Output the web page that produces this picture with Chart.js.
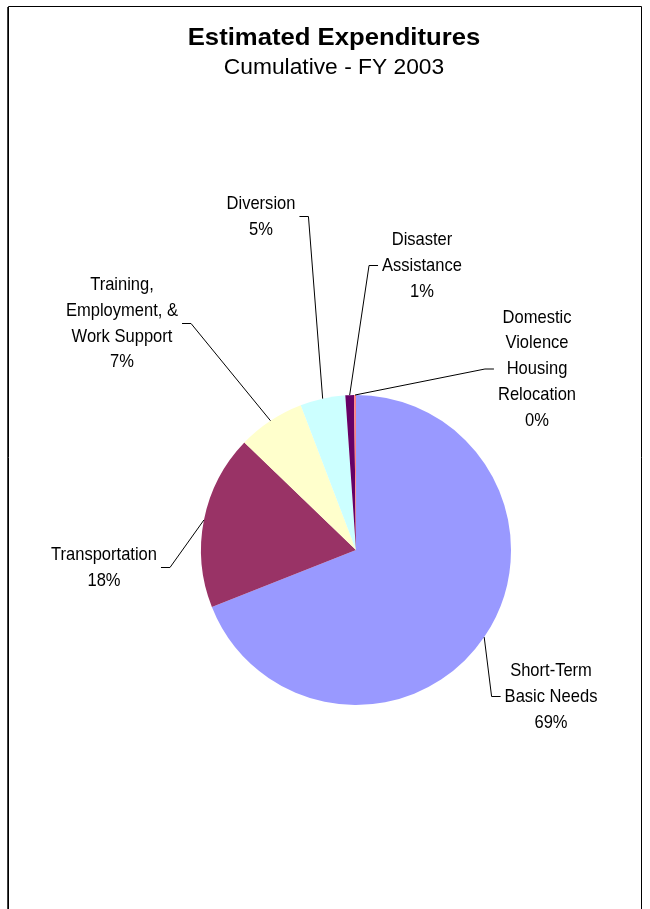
<!DOCTYPE html>
<html>
<head>
<meta charset="utf-8">
<script src="https://cdn.jsdelivr.net/npm/chart.js@4/dist/chart.umd.min.js"></script>
<style>
  html, body { margin: 0; padding: 0; background: #ffffff; }
  #wrap { position: relative; width: 650px; height: 909px; }
  canvas { display: block; }
</style>
</head>
<body>
<div id="wrap"><canvas id="c" width="650" height="909"></canvas></div>
<script>
// ---- data ----
const TITLE = "Estimated Expenditures";
const SUBTITLE = "Cumulative - FY 2003";
const categories = [
  "Short-Term\nBasic Needs",
  "Transportation",
  "Training,\nEmployment, &\nWork Support",
  "Diversion",
  "Disaster\nAssistance",
  "Domestic\nViolence\nHousing\nRelocation"
];
const values = [69.0, 18.2, 7.0, 4.7, 0.9, 0.2];
const colors = ["#9999FF", "#993366", "#FFFFCC", "#CCFFFF", "#660066", "#FF8080"];

// ---- label layout (text block centre, side the leader line attaches to) ----
const labelLayout = [
  { cx: 551, cy: 696.5, side: "left" },
  { cx: 104, cy: 567.5, side: "right" },
  { cx: 122, cy: 323.5, side: "right" },
  { cx: 261, cy: 216.5, side: "right" },
  { cx: 422, cy: 265.5, side: "left" },
  { cx: 537, cy: 369,   side: "left" }
];

const LABEL_FONT = "19px 'Liberation Sans', Arial, sans-serif";
const LABEL_SX = 0.87;   // condensed look
const LINE_H = 25.8;

function drawScaledText(ctx, text, x, y, sx) {
  ctx.save();
  ctx.translate(x, y);
  ctx.scale(sx, 1);
  ctx.fillText(text, 0, 0);
  ctx.restore();
}

const framePlugin = {
  id: "frame",
  beforeDraw(chart) {
    const ctx = chart.ctx;
    ctx.save();
    ctx.fillStyle = "#ffffff";
    ctx.fillRect(0, 0, chart.width, chart.height);
    ctx.strokeStyle = "#000000";
    ctx.lineWidth = 1;
    ctx.beginPath();
    ctx.moveTo(8.5, 909); ctx.lineTo(8.5, 6.5); ctx.lineTo(641.5, 6.5); ctx.lineTo(641.5, 909);
    ctx.stroke();
    ctx.strokeStyle = "#404040";
    ctx.beginPath(); ctx.moveTo(7.5, 7); ctx.lineTo(7.5, 909); ctx.stroke();
    // titles
    ctx.fillStyle = "#000000";
    ctx.textAlign = "center";
    ctx.textBaseline = "alphabetic";
    ctx.font = "bold 24px 'Liberation Sans', Arial, sans-serif";
    drawScaledText(ctx, TITLE, 334, 45, 1.07);
    ctx.font = "21.5px 'Liberation Sans', Arial, sans-serif";
    drawScaledText(ctx, SUBTITLE, 334, 74, 1.06);
    ctx.restore();
  }
};

const labelPlugin = {
  id: "leaderLabels",
  afterDatasetsDraw(chart) {
    const ctx = chart.ctx;
    const meta = chart.getDatasetMeta(0);
    const data = chart.data.datasets[0].data;
    const total = data.reduce((s, v) => s + v, 0);
    ctx.save();
    ctx.font = LABEL_FONT;
    meta.data.forEach((arc, i) => {
      const p = arc.getProps(["x", "y", "startAngle", "endAngle", "outerRadius"], true);
      const mid = (p.startAngle + p.endAngle) / 2;
      const ex = p.x + Math.cos(mid) * p.outerRadius;
      const ey = p.y + Math.sin(mid) * p.outerRadius;
      const lay = labelLayout[i];
      const lines = chart.data.labels[i].split("\n");
      lines.push(Math.round(data[i] / total * 100) + "%");
      const w = Math.max(...lines.map(t => ctx.measureText(t).width)) * LABEL_SX;
      let attach, knee;
      if (lay.side === "right") { attach = lay.cx + w / 2 + 4; knee = attach + 9; }
      else { attach = lay.cx - w / 2 - 4; knee = attach - 9; }
      ctx.strokeStyle = "#000000";
      ctx.lineWidth = 1;
      ctx.beginPath();
      ctx.moveTo(ex, ey);
      ctx.lineTo(knee, lay.cy);
      ctx.lineTo(attach, lay.cy);
      ctx.stroke();
      ctx.fillStyle = "#000000";
      ctx.textAlign = "center";
      ctx.textBaseline = "middle";
      const top = lay.cy - (lines.length - 1) * LINE_H / 2;
      lines.forEach((t, k) => drawScaledText(ctx, t, lay.cx, top + k * LINE_H, LABEL_SX));
    });
    ctx.restore();
  }
};

new Chart(document.getElementById("c"), {
  type: "pie",
  data: {
    labels: categories,
    datasets: [{
      data: values,
      backgroundColor: colors,
      borderWidth: 0
    }]
  },
  options: {
    responsive: false,
    animation: false,
    devicePixelRatio: 1,
    layout: { padding: { left: 201, right: 139, top: 395, bottom: 204 } },
    plugins: {
      legend: { display: false },
      tooltip: { enabled: false },
      title: { display: false }
    }
  },
  plugins: [framePlugin, labelPlugin]
});
</script>
</body>
</html>
